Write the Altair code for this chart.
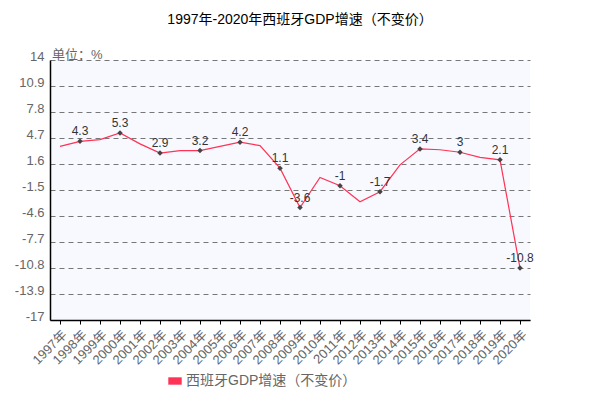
import altair as alt
import pandas as pd

years = [f"{y}年" for y in range(1997, 2021)]
growth = [3.7, 4.3, 4.5, 5.3, 4.0, 2.9, 3.2, 3.2, 3.7, 4.2, 3.8, 1.1,
          -3.6, 0.0, -1.0, -2.9, -1.7, 1.5, 3.4, 3.3, 3.0, 2.4, 2.1, -10.8]
labeled = [False, True, False, True, False, True, False, True, False, True, False, True,
           True, False, True, False, True, False, True, False, True, False, True, True]
series_name = "西班牙GDP增速（不变价）"
y_ticks = [14, 10.9, 7.8, 4.7, 1.6, -1.5, -4.6, -7.7, -10.8, -13.9, -17]

df = pd.DataFrame({
    "year": years,
    "value": growth,
    "labeled": labeled,
    "series": [series_name] * len(years),
})
df["label"] = df["value"].map(lambda v: f"{v:g}")
pts = df[df["labeled"]]

FONT = "Liberation Sans, Noto Sans CJK SC, sans-serif"
RED = "#ff3355"

x_enc = alt.X("year:N", sort=years, scale=alt.Scale(paddingInner=1, paddingOuter=0.5),
              axis=alt.Axis(title=None, labelAngle=-45, labelFontSize=13, labelColor="#666",
                            labelFont=FONT, tickColor="#000", tickSize=4, domainColor="#000",
                            domainWidth=1.5, labelPadding=4, grid=False, labelOverlap=False))
y_enc = alt.Y("value:Q", scale=alt.Scale(domain=[-17, 14], nice=False, zero=False),
              axis=alt.Axis(title=None, values=y_ticks, tickCount=20, labelExpr="datum.value + ''",
                            labelFontSize=13, labelColor="#666", labelFont=FONT,
                            ticks=False, labelPadding=6, labelBaseline="alphabetic",
                            labelOverlap=False, labelBound=False,
                            domainColor="#000", domainWidth=1.5,
                            grid=True, gridColor="#777", gridDash=[5, 4], gridWidth=1))

line = alt.Chart(df).mark_line(strokeWidth=1.2).encode(
    x=x_enc, y=y_enc,
    color=alt.Color("series:N", scale=alt.Scale(range=[RED]),
                    legend=alt.Legend(title=None, orient="none", legendX=118, legendY=314,
                                      symbolType="M-1,-0.55H1V0.55H-1Z", symbolSize=180,
                                      symbolFillColor=RED, symbolStrokeColor=RED,
                                      symbolStrokeWidth=0, labelLimit=400,
                                      labelFontSize=14, labelColor="#666", labelFont=FONT)),
)

points = alt.Chart(pts).mark_point(shape="diamond", filled=True, size=30, color="#444", opacity=1).encode(
    x=alt.X("year:N", sort=years), y="value:Q")

labels = alt.Chart(pts).mark_text(dy=-10, fontSize=12, color="#333", font=FONT).encode(
    x=alt.X("year:N", sort=years), y="value:Q", text="label:N")

unit = alt.Chart(pd.DataFrame({"t": ["单位：%"]})).mark_text(
    align="left", baseline="alphabetic", fontSize=13, color="#666", font=FONT
).encode(x=alt.value(2), y=alt.value(-1), text="t:N")

chart = alt.layer(line, points, labels, unit).properties(
    width=480, height=260,
    title=alt.TitleParams("1997年-2020年西班牙GDP增速（不变价）", anchor="middle", dx=10,
                          fontSize=14, fontWeight="normal", color="#000", font=FONT, offset=22),
    autosize=alt.AutoSizeParams(type="none"),
    padding={"left": 42, "top": 52, "right": 72, "bottom": 78},
).configure_view(fill="#f8f9ff", stroke=None)

chart.save("out.html", embed_options={"renderer": "svg", "actions": False})
